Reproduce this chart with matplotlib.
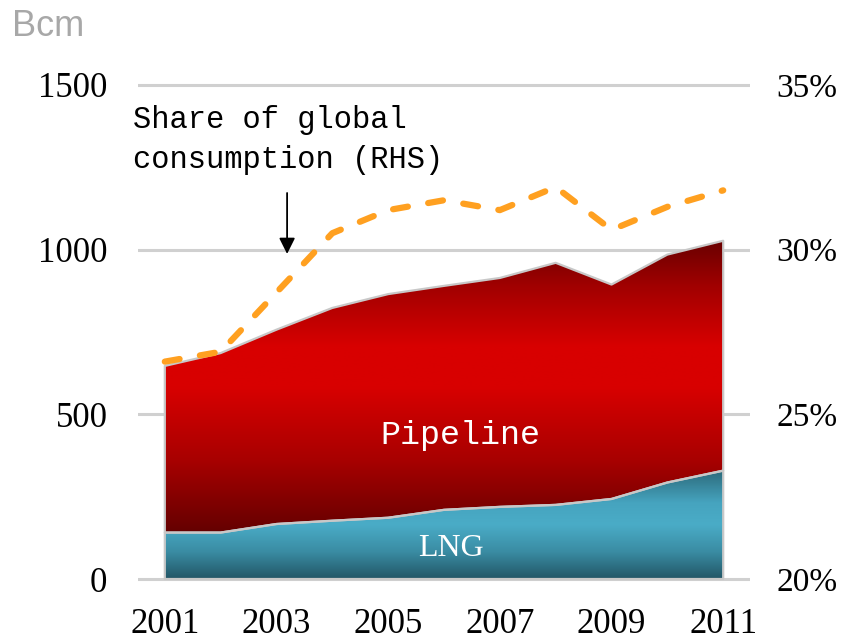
import numpy as np
import matplotlib
matplotlib.use('Agg')
import matplotlib.pyplot as plt
from matplotlib.colors import LinearSegmentedColormap

years = [2001, 2002, 2003, 2004, 2005, 2006, 2007, 2008, 2009, 2010, 2011]
lng = [141, 141, 167, 177, 186, 210, 219, 225, 243, 293, 329]
total = [647, 686, 757, 823, 865, 890, 914, 960, 894, 985, 1027]
share = [26.6, 26.9, 28.7, 30.5, 31.2, 31.5, 31.2, 31.9, 30.6, 31.3, 31.8]

year_ticks = [2001, 2003, 2005, 2007, 2009, 2011]
left_ticks = [0, 500, 1000, 1500]
right_ticks = [20, 25, 30, 35]

grid_c = '#d0d0d0'
edge_c = '#c8c8c8'
serif = 'Liberation Serif'
mono = 'Liberation Mono'

fig = plt.figure(figsize=(8.41, 6.44), dpi=100)
ax = fig.add_axes([0.1641, 0.0907, 0.7277, 0.7876])
ax.set_xlim(2000.52, 2011.48)
ax.set_ylim(-20, 1520)

for v in left_ticks:
    ax.axhline(v, color=grid_c, lw=2.2, zorder=0)

x = np.array(years, dtype=float)
lo = np.array(lng, dtype=float)
hi = np.array(total, dtype=float)


def gradient_fill(y1, y2, cmap, zorder):
    poly = ax.fill_between(x, y1, y2, facecolor='none', edgecolor=edge_c,
                           lw=1.6, zorder=zorder + 1)
    ymin = float(np.min(y1))
    ymax = float(np.max(y2))
    grad = np.linspace(0, 1, 256).reshape(-1, 1)
    im = ax.imshow(grad, cmap=cmap, aspect='auto', origin='lower',
                   extent=[x[0], x[-1], ymin, ymax], zorder=zorder,
                   interpolation='bilinear')
    im.set_clip_path(poly.get_paths()[0], transform=ax.transData)


red_cmap = LinearSegmentedColormap.from_list(
    'pipe', [(0.0, '#640000'), (0.25, '#a80000'), (0.5, '#d80000'),
             (0.64, '#d80000'), (0.85, '#a00000'), (1.0, '#6a0000')])
teal_cmap = LinearSegmentedColormap.from_list(
    'lng', [(0.0, '#225666'), (0.25, '#3a8ca3'), (0.5, '#4aacc7'),
            (0.7, '#46a4bf'), (1.0, '#2c6a7b')])

gradient_fill(np.zeros_like(lo), lo, teal_cmap, 2)
gradient_fill(lo, hi, red_cmap, 2)

ax.set_ylim(-20, 1520)
ax.set_xlim(2000.52, 2011.48)

for s in ax.spines.values():
    s.set_visible(False)
ax.set_xticks(year_ticks)
ax.set_yticks(left_ticks)
ax.tick_params(length=0)
ax.tick_params(axis='y', pad=22)
ax.tick_params(axis='x', pad=16)
for lab in ax.get_xticklabels() + ax.get_yticklabels():
    lab.set_fontfamily(serif)
    lab.set_fontsize(25)
    lab.set_color('black')

ax2 = ax.twinx()
ax2.set_ylim(19.8, 35.2)
ax2.plot(years, share, color='#ffa020', lw=4.5, dashes=(2.4, 3.3),
         dash_capstyle='round', zorder=5)
for s in ax2.spines.values():
    s.set_visible(False)
ax2.set_yticks(right_ticks)
ax2.set_yticklabels([f'{t}%' for t in right_ticks])
ax2.tick_params(length=0, pad=19)
for lab in ax2.get_yticklabels():
    lab.set_fontfamily(serif)
    lab.set_fontsize(24)

ax.text(2006.29, 437, 'Pipeline', color='white', fontsize=24,
        family=mono, ha='center', va='center', zorder=10)
ax.text(2006.13, 94, 'LNG', color='white', fontsize=23,
        family=serif, ha='center', va='center', zorder=10)

ax.text(2000.43, 1440, 'Share of global\nconsumption (RHS)', fontsize=22,
        family=mono, ha='left', va='top', linespacing=1.45, zorder=10)
ax.annotate('', xy=(2003.19, 987), xytext=(2003.19, 1172),
            arrowprops=dict(arrowstyle='-|>', color='black', lw=1.3,
                            mutation_scale=24, shrinkA=0, shrinkB=0),
            zorder=10)

fig.text(12 / 841, 1 - 26 / 644, 'Bcm', color='#a8a8a8', fontsize=26,
         family='Liberation Sans', ha='left', va='center')

fig.savefig('out.png', dpi=100)
